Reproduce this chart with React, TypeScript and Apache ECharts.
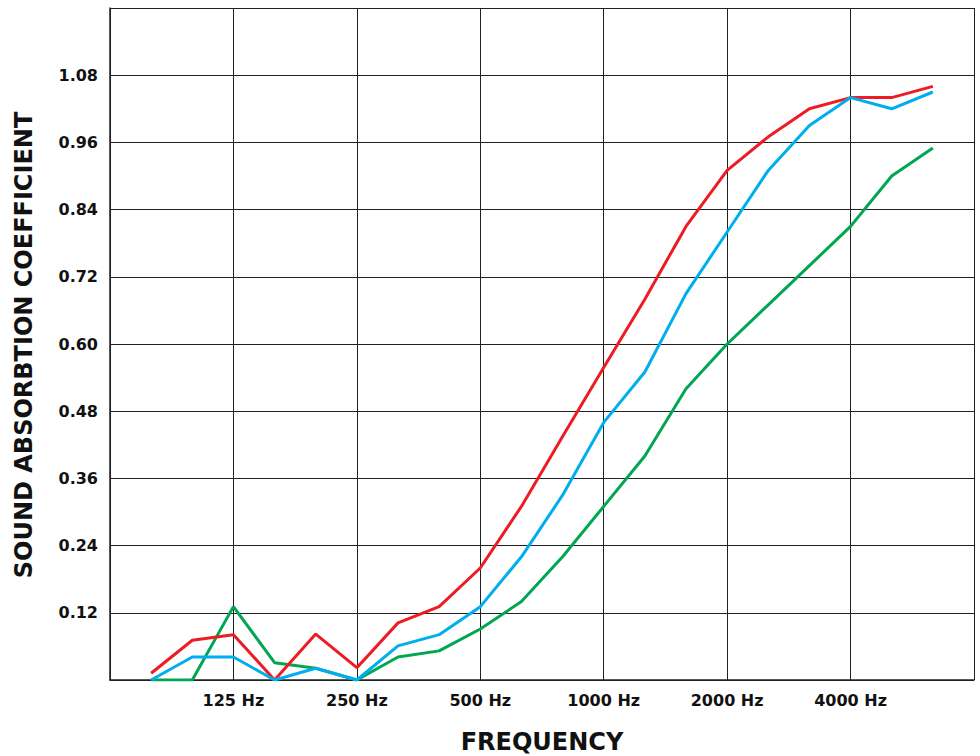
import React, { useEffect, useRef } from "react";
import * as echarts from "echarts";

const frequencies = ["80", "100", "125", "160", "200", "250", "315", "400", "500", "630", "800", "1000", "1250", "1600", "2000", "2500", "3150", "4000", "5000", "6300"];
const tickLabels: Record<number, string> = { 3: "125 Hz", 6: "250 Hz", 9: "500 Hz", 12: "1000 Hz", 15: "2000 Hz", 18: "4000 Hz" };
const redValues = [0.012, 0.071, 0.081, 0.0, 0.082, 0.022, 0.102, 0.131, 0.2, 0.31, 0.435, 0.558, 0.68, 0.81, 0.91, 0.97, 1.02, 1.04, 1.04, 1.06];
const blueValues = [0.0, 0.041, 0.041, 0.0, 0.021, 0.0, 0.061, 0.081, 0.131, 0.22, 0.33, 0.46, 0.55, 0.69, 0.8, 0.91, 0.99, 1.04, 1.02, 1.05];
const greenValues = [0.0, 0.0, 0.131, 0.031, 0.021, 0.0, 0.041, 0.052, 0.091, 0.14, 0.22, 0.31, 0.4, 0.52, 0.6, 0.67, 0.74, 0.81, 0.9, 0.95];

const FONT = "DejaVu Sans";

const toPoints = (vals: number[]) => vals.map((v, i) => [i + 1, v]);

export default function App() {
  const ref = useRef<HTMLDivElement>(null);
  useEffect(() => {
    if (!ref.current) return;
    const chart = echarts.init(ref.current, null, { renderer: "svg" });
    const lineSeries = (name: string, vals: number[], color: string) => ({
      name,
      type: "line",
      data: toPoints(vals),
      symbol: "none",
      lineStyle: { color, width: 3 },
      itemStyle: { color },
      silent: true,
    });
    chart.setOption({
      animation: false,
      backgroundColor: "#ffffff",
      grid: { left: 110, right: 6, top: 8, bottom: 76, containLabel: false },
      xAxis: {
        type: "value",
        min: 0,
        max: 21,
        interval: 3,
        axisLine: { show: true, lineStyle: { color: "#222", width: 1.5 } },
        axisTick: { show: false },
        splitLine: { show: true, lineStyle: { color: "#222", width: 1 } },
        axisLabel: {
          margin: 12,
          color: "#111",
          fontFamily: FONT,
          fontWeight: "bold",
          fontSize: 16,
          formatter: (v: number) => tickLabels[Math.round(v)] ?? "",
        },
      },
      yAxis: {
        type: "value",
        min: 0,
        max: 1.2,
        interval: 0.12,
        axisLine: { show: true, lineStyle: { color: "#222", width: 1.5 } },
        axisTick: { show: false },
        splitLine: { show: true, lineStyle: { color: "#222", width: 1 } },
        axisLabel: {
          margin: 12,
          color: "#111",
          fontFamily: FONT,
          fontWeight: "bold",
          fontSize: 16,
          formatter: (v: number) => (v <= 0.001 || v >= 1.19 ? "" : v.toFixed(2)),
        },
      },
      graphic: [
        {
          type: "text",
          x: 542,
          y: 742,
          style: {
            text: "FREQUENCY",
            fill: "#111",
            font: `bold 24px "${FONT}"`,
            textAlign: "center",
            textVerticalAlign: "middle",
          },
        },
        {
          type: "text",
          x: 24,
          y: 345,
          rotation: Math.PI / 2,
          style: {
            text: "SOUND ABSORBTION COEFFICIENT",
            fill: "#111",
            font: `bold 24px "${FONT}"`,
            textAlign: "center",
            textVerticalAlign: "middle",
          },
        },
      ],
      series: [
        lineSeries("Green", greenValues, "#00a651"),
        lineSeries("Red", redValues, "#ed1c24"),
        lineSeries("Blue", blueValues, "#00aeef"),
      ],
    });
    return () => chart.dispose();
  }, []);
  return (
    <div
      ref={ref}
      style={{ position: "fixed", left: 0, top: 0, width: 980, height: 756, background: "#fff" }}
    />
  );
}
